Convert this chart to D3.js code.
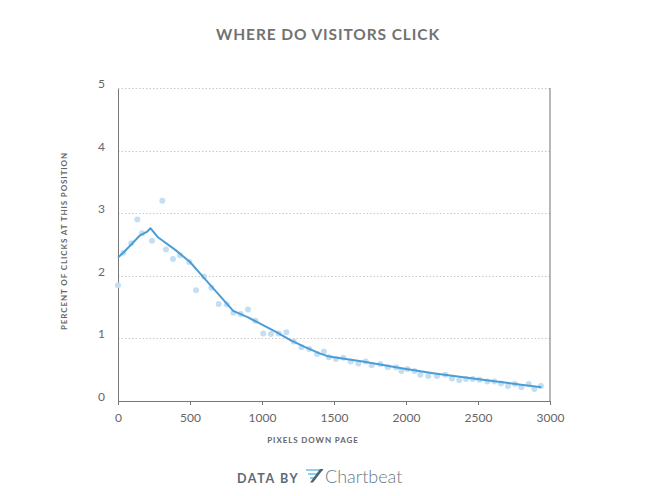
<!DOCTYPE html>
<html lang="en">
<head>
<meta charset="utf-8">
<title>Where do visitors click</title>
<script src="https://d3js.org/d3.v7.min.js"></script>
<style>
body { margin: 0; background: #fff; font-family: Lato, "Open Sans", sans-serif; }
.axis text { font: 12px Lato, sans-serif; fill: #666; }
.axis path, .axis line { stroke: #777; stroke-width: 1.3; shape-rendering: crispEdges; }
.grid line { stroke: #c8c8c8; stroke-dasharray: 1.5 2; }
.lbl { font: bold 8px Lato, sans-serif; fill: #666; letter-spacing: 0.9px; }
</style>
</head>
<body>
<script>

// scatter: pixels down page vs percent of clicks
var dotX = [0, 37, 92, 134, 167, 236, 308, 333, 382, 431, 495, 542, 597, 648, 699, 755, 801, 852, 903, 954,
            1009, 1062, 1116, 1169, 1220, 1275, 1328, 1382, 1430, 1465, 1514, 1565, 1616, 1669, 1720, 1762,
            1822, 1873, 1931, 1968, 2010, 2060, 2100, 2155, 2215, 2273, 2319, 2370, 2417, 2463, 2509, 2565,
            2613, 2660, 2708, 2757, 2801, 2852, 2891, 2937];
var dotY = [1.85, 2.37, 2.52, 2.90, 2.68, 2.56, 3.20, 2.42, 2.27, 2.33, 2.22, 1.77, 1.99, 1.81, 1.55, 1.54, 1.41, 1.39, 1.46, 1.28,
            1.08, 1.07, 1.08, 1.10, 0.95, 0.86, 0.83, 0.75, 0.79, 0.70, 0.67, 0.69, 0.63, 0.60, 0.63, 0.57,
            0.59, 0.54, 0.54, 0.48, 0.51, 0.48, 0.42, 0.40, 0.40, 0.42, 0.36, 0.33, 0.35, 0.35, 0.34, 0.31,
            0.31, 0.28, 0.24, 0.27, 0.22, 0.27, 0.19, 0.24];

// trend line
var lineX = [0, 50, 100, 150, 200, 225, 275, 400, 500, 600, 700, 800, 900, 1000, 1100, 1200, 1300, 1400, 1450,
             1500, 1700, 1900, 2000, 2200, 2400, 2600, 2700, 2800, 2940];
var lineY = [2.29, 2.40, 2.52, 2.64, 2.70, 2.76, 2.62, 2.41, 2.22, 1.96, 1.70, 1.44, 1.34, 1.22, 1.10, 0.97, 0.86, 0.76, 0.72,
             0.70, 0.63, 0.55, 0.51, 0.44, 0.38, 0.32, 0.29, 0.26, 0.22];

var xTicks = [0, 500, 1000, 1500, 2000, 2500, 3000];
var yTicks = [0, 1, 2, 3, 4, 5];

var W = 657, H = 496;
var pLeft = 118, pRight = 550, pTop = 88, pBottom = 401;

var x = d3.scaleLinear().domain([0, 3000]).range([pLeft, pRight]);
var y = d3.scaleLinear().domain([0, 5]).range([pBottom, pTop]);

var svg = d3.select("body").append("svg")
    .attr("width", W)
    .attr("height", H);

// title
svg.append("text")
    .attr("x", 328).attr("y", 40)
    .attr("text-anchor", "middle")
    .style("font", "bold 15.5px Lato, sans-serif")
    .style("letter-spacing", "0.9px")
    .style("fill", "#727272")
    .text("WHERE DO VISITORS CLICK");

// gridlines
svg.append("g").attr("class", "grid")
  .selectAll("line")
  .data(yTicks.slice(1))
  .join("line")
    .attr("x1", pLeft).attr("x2", pRight)
    .attr("y1", d => Math.round(y(d)) + 0.5)
    .attr("y2", d => Math.round(y(d)) + 0.5);

// right frame
svg.append("line")
    .attr("x1", pRight).attr("x2", pRight)
    .attr("y1", pTop).attr("y2", pBottom)
    .attr("stroke", "#888").attr("stroke-width", 1.2);

// axes
svg.append("g")
    .attr("class", "axis")
    .attr("transform", "translate(0," + pBottom + ")")
    .call(d3.axisBottom(x).tickValues(xTicks).tickFormat(d3.format("d"))
        .tickSize(4).tickSizeOuter(0).tickPadding(8));

svg.append("g")
    .attr("class", "axis")
    .attr("transform", "translate(" + pLeft + ",0)")
    .call(d3.axisLeft(y).tickValues(yTicks).tickFormat(d3.format("d"))
        .tickSize(0).tickPadding(13))
    .call(g => g.selectAll("text").attr("dy", "-0.05em"));

// dots
var pts = dotX.map((d, i) => ({x: d, y: dotY[i]}));
svg.append("g")
  .selectAll("circle")
  .data(pts)
  .join("circle")
    .attr("cx", d => x(d.x))
    .attr("cy", d => y(d.y))
    .attr("r", 3)
    .attr("fill", "#c4def3");

// line
var trend = lineX.map((d, i) => [d, lineY[i]]);
svg.append("path")
    .datum(trend)
    .attr("fill", "none")
    .attr("stroke", "#4b9dd6")
    .attr("stroke-width", 2)
    .attr("stroke-linejoin", "round")
    .attr("d", d3.line().x(d => x(d[0])).y(d => y(d[1])));

// axis titles
svg.append("text")
    .attr("class", "lbl")
    .attr("text-anchor", "middle")
    .attr("transform", "translate(67,241) rotate(-90)")
    .text("PERCENT OF CLICKS AT THIS POSITION");

svg.append("text")
    .attr("class", "lbl")
    .attr("text-anchor", "middle")
    .attr("x", 313).attr("y", 443)
    .text("PIXELS DOWN PAGE");

// footer
svg.append("text")
    .attr("x", 237).attr("y", 483)
    .style("font", "bold 12.5px Lato, sans-serif")
    .style("letter-spacing", "1.6px")
    .style("fill", "#5c6a74")
    .text("DATA BY");

var logo = svg.append("g").attr("transform", "translate(306,469)");
logo.append("path").attr("d", "M0,0 H17 V2 H0 Z").attr("fill", "#8fd0ec");
logo.append("path").attr("d", "M2,4 H12 V6 H2 Z").attr("fill", "#8fd0ec");
logo.append("path").attr("d", "M4,8 H9 V10 H4 Z").attr("fill", "#8fd0ec");
logo.append("path").attr("d", "M14,0 H17.5 L7,13.5 H4 Z").attr("fill", "#4f6270");

svg.append("text")
    .attr("x", 325).attr("y", 483)
    .style("font", "300 18px Lato, sans-serif")
    .style("fill", "#6a7984")
    .text("Chartbeat");

</script>
</body>
</html>
